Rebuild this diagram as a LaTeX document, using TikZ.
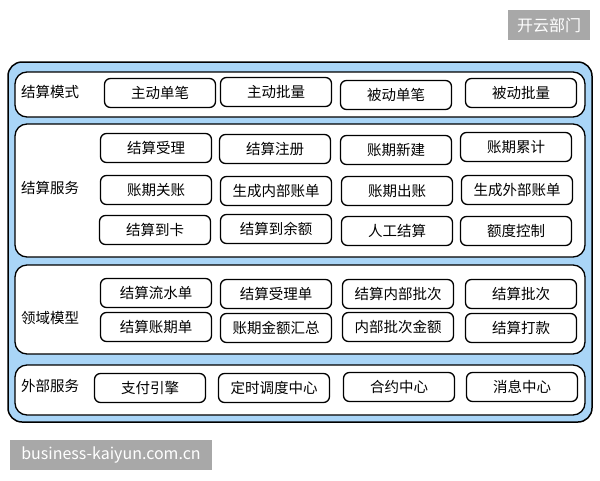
\documentclass[tikz,border=0pt]{standalone}
\usepackage{fontspec}
\setmainfont{Noto Sans CJK SC}
\usetikzlibrary{positioning}
\definecolor{layerblue}{HTML}{A9D5F7}
\definecolor{stampgray}{HTML}{A8A8A8}
\tikzset{
  item/.style={draw, line width=1.3pt, fill=white, rounded corners=6pt, minimum width=111pt, minimum height=29pt, inner sep=0pt, font=\fontsize{14.5}{16}\selectfont},
  layer/.style={draw, line width=1.3pt, fill=white, rounded corners=12pt, minimum width=570pt, inner sep=0pt},
  tag/.style={anchor=west, inner sep=0pt, font=\fontsize{14.5}{16}\selectfont},
  stamp/.style={fill=stampgray, text=white, inner sep=0pt, font=\fontsize{16}{18}\selectfont}
}

\begin{document}
\begin{tikzpicture}[x=1pt, y=-1pt]
	\useasboundingbox (0,0) rectangle (600,480);
	% outer frame
	\node[draw, line width=1.5pt, fill=layerblue, rounded corners=14pt, minimum width=584pt, minimum height=360pt] (frame) at (300,242) {};
	% layers
	\node[layer, minimum height=45pt] (l1) at (300,94.5) {};
	\node[layer, minimum height=133pt] (l2) at (300,190.5) {};
	\node[layer, minimum height=89pt] (l3) at (300,309.5) {};
	\node[layer, minimum height=50pt] (l4) at (300,390) {};
	% layer names
	\node[tag] (t1) at (21,92) {结算模式};
	\node[tag] (t2) at (21,188) {结算服务};
	\node[tag] (t3) at (21,318) {领域模型};
	\node[tag] (t4) at (21,386) {外部服务};
	% 结算模式
	\node[item] (m1) at (160,93) {主动单笔};
	\node[item] (m2) at (276,92) {主动批量};
	\node[item] (m3) at (396,95) {被动单笔};
	\node[item] (m4) at (521,93) {被动批量};
	% 结算服务
	\node[item] (s1) at (156,148) {结算受理};
	\node[item] (s2) at (275,149) {结算注册};
	\node[item] (s3) at (396,150) {账期新建};
	\node[item] (s4) at (516,147) {账期累计};
	\node[item] (s5) at (156,190) {账期关账};
	\node[item] (s6) at (276,191) {生成内部账单};
	\node[item] (s7) at (397,191) {账期出账};
	\node[item] (s8) at (517,190) {生成外部账单};
	\node[item] (s9) at (155,230) {结算到卡};
	\node[item] (s10) at (276,229) {结算到余额};
	\node[item] (s11) at (397,231) {人工结算};
	\node[item] (s12) at (516,231) {额度控制};
	% 领域模型
	\node[item] (d1) at (156,293) {结算流水单};
	\node[item] (d2) at (276,294) {结算受理单};
	\node[item] (d3) at (398,294) {结算内部批次};
	\node[item] (d4) at (521,294) {结算批次};
	\node[item] (d5) at (156,327) {结算账期单};
	\node[item] (d6) at (276,328) {账期金额汇总};
	\node[item] (d7) at (398,327) {内部批次金额};
	\node[item] (d8) at (521,328) {结算打款};
	% 外部服务
	\node[item] (e1) at (150,388) {支付引擎};
	\node[item] (e2) at (274,388) {定时调度中心};
	\node[item] (e3) at (399,387) {合约中心};
	\node[item] (e4) at (522,387) {消息中心};
	% marks
	\node[stamp, minimum width=82pt, minimum height=30pt] (brand) at (549,25) {开云部门};
	\node[stamp, minimum width=202pt, minimum height=30pt] (site) at (111,455) {business-kaiyun.com.cn};
\end{tikzpicture}
\end{document}
